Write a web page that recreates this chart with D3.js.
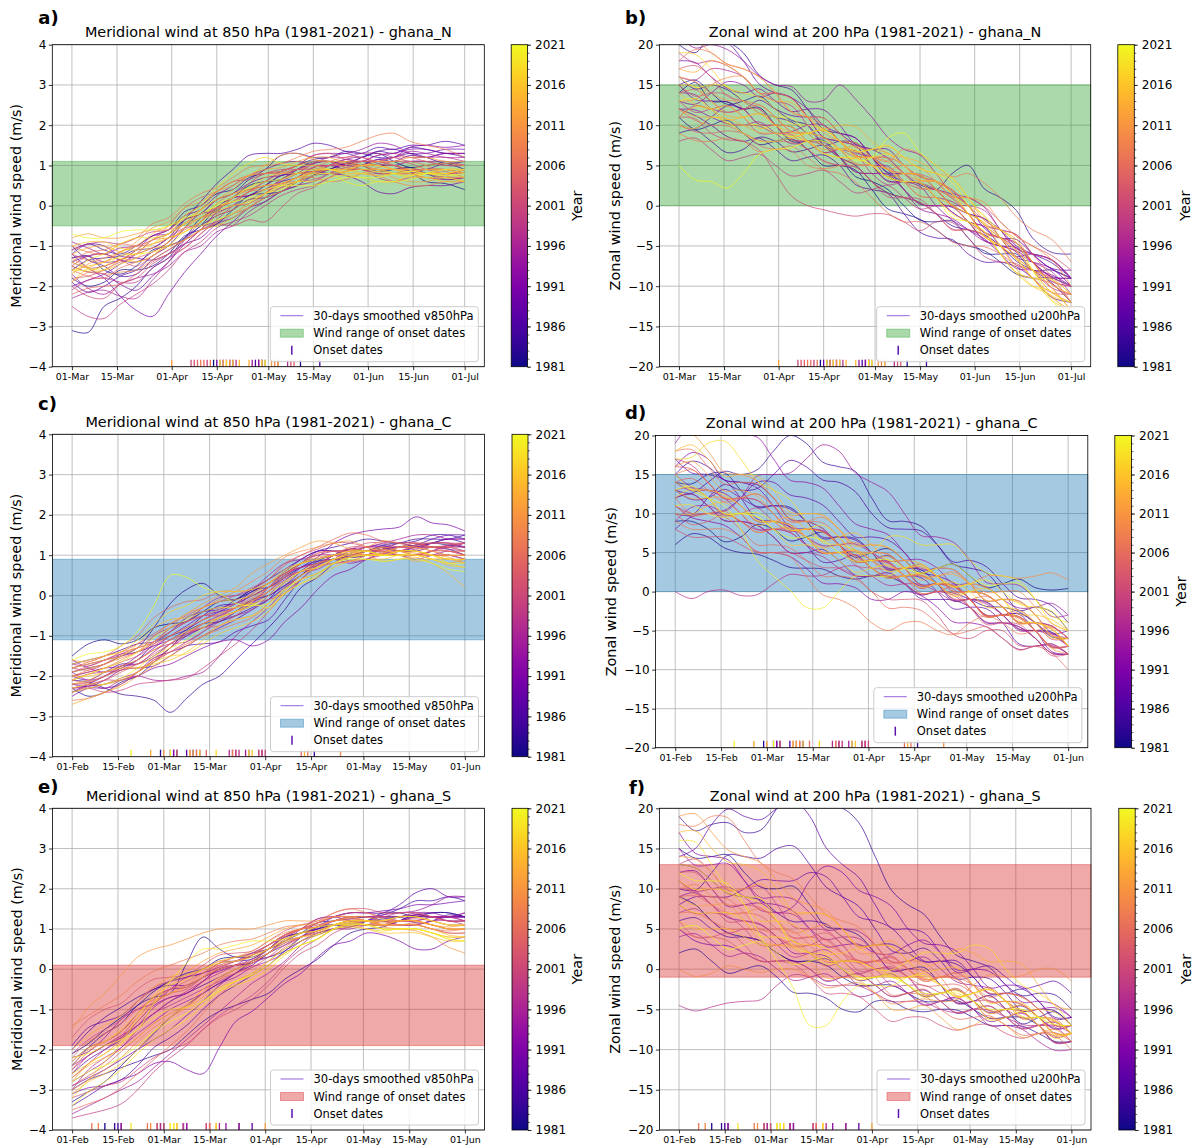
<!DOCTYPE html>
<html>
<head>
<meta charset="utf-8">
<script src="https://cdn.jsdelivr.net/npm/d3@7"></script>
<style>
  body { margin: 0; background: #fff; }
  svg { display: block; }
  text { font-family: "DejaVu Sans", sans-serif; fill: #000; }
</style>
</head>
<body>
<svg id="fig" width="1199" height="1147"></svg>
<script>
// ---------------------------------------------------------------------------
// Data: 30-day smoothed wind speed per year, sampled every ~5 days
// ---------------------------------------------------------------------------
const years = [1981,1982,1983,1984,1985,1986,1987,1988,1989,1990,1991,1992,1993,1994,1995,
  1996,1997,1998,1999,2000,2001,2002,2003,2004,2005,2006,2007,2008,2009,2010,2011,2012,2013,
  2014,2015,2016,2017,2018,2019,2020,2021];

// sample positions, days after the first tick of each season
const sampleDaysMarJul = [0,5,10,15,20,25,30,35,40,45,50,55,60,65,70,75,80,85,90,95,100,105,110,116,122];
const sampleDaysFebJun = [0,5,10,15,20,25,30,35,40,45,50,55,60,65,70,75,80,85,90,95,100,105,110,115,120];

const ticksMarJul = ["01-Mar","15-Mar","01-Apr","15-Apr","01-May","15-May","01-Jun","15-Jun","01-Jul"];
const ticksFebJun = ["01-Feb","15-Feb","01-Mar","15-Mar","01-Apr","15-Apr","01-May","15-May","01-Jun"];
const ticksV850 = [-4,-3,-2,-1,0,1,2,3,4];
const ticksU200 = [-20,-15,-10,-5,0,5,10,15,20];
const ticksYear = [1981,1986,1991,1996,2001,2006,2011,2016,2021];

// ghana_N, v850 (m/s), 01-Mar .. 01-Jul
const v850N = [
  [-1.3,-1.25,-1.6,-1.7,-1.5,-1.1,-1.0,-0.8,-0.3,-0.1,0.2,0.5,0.6,0.65,0.9,1.1,1.1,1.0,1.2,1.3,1.1,0.95,1.0,1.05,0.9],
  [-1.8,-2.0,-1.9,-1.6,-1.6,-1.5,-1.2,-0.75,-0.6,-0.45,-0.1,0.25,0.3,0.35,0.6,0.85,0.9,1.05,1.0,0.85,0.9,0.95,0.8,0.65,0.7],
  [-3.1,-3.15,-2.5,-2.3,-2.0,-1.55,-1.3,-0.8,-0.5,-0.05,0.2,0.25,0.5,0.75,0.8,0.8,0.9,1.05,1.1,1.0,1.0,0.85,0.6,0.55,0.4],
  [-1.2,-0.95,-1.1,-1.2,-1.0,-0.75,-0.6,-0.15,0.0,0.3,0.4,0.7,0.8,0.85,1.0,1.15,1.2,1.35,1.3,1.2,1.2,1.3,1.2,1.05,1.1],
  [-1.6,-1.35,-1.3,-1.25,-1.1,-1.05,-0.8,-0.35,-0.2,0.15,0.3,0.65,0.9,1.25,1.3,1.2,1.2,1.3,1.2,1.35,1.3,1.45,1.4,1.3,1.3],
  [-1.0,-1.35,-1.5,-1.75,-1.7,-1.35,-1.1,-0.85,-0.5,-0.25,-0.1,0.15,0.2,0.35,0.6,0.75,0.8,0.85,1.0,1.15,1.1,1.25,1.2,1.3,1.2],
  [-1.4,-1.25,-1.2,-1.35,-1.4,-1.15,-0.9,-0.35,0.1,0.55,0.9,1.25,1.3,1.3,1.4,1.55,1.5,1.35,1.3,1.45,1.4,1.5,1.5,1.6,1.5],
  [-1.9,-2.15,-2.0,-1.75,-1.6,-1.25,-1.0,-0.55,-0.2,-0.15,0.0,0.25,0.4,0.6,0.7,0.95,1.0,0.9,0.9,0.8,0.8,0.9,0.9,1.05,1.0],
  [-1.1,-0.95,-1.0,-1.25,-1.3,-1.35,-1.2,-0.95,-0.8,-0.45,-0.3,-0.05,0.1,0.35,0.5,0.75,0.9,1.05,1.2,1.35,1.4,1.3,1.3,1.4,1.4],
  [-1.5,-1.65,-1.7,-1.95,-2.1,-1.75,-1.4,-0.95,-0.6,-0.15,0.2,0.4,0.5,0.75,0.8,0.85,0.8,0.75,0.6,0.35,0.3,0.45,0.5,0.5,0.6],
  [-1.2,-1.55,-1.8,-2.25,-2.6,-2.75,-2.2,-1.65,-1.2,-0.75,-0.4,-0.05,0.2,0.45,0.6,0.75,1.0,1.15,1.1,1.25,1.3,1.4,1.4,1.3,1.3],
  [-2.0,-1.85,-1.7,-1.45,-1.2,-0.85,-0.7,-0.35,-0.2,0.15,0.3,0.55,0.7,0.75,0.9,1.05,1.1,1.0,1.0,1.15,1.2,1.45,1.5,1.45,1.5],
  [-1.3,-1.25,-1.4,-1.35,-1.1,-0.75,-0.6,-0.25,-0.1,0.25,0.5,0.75,0.9,1.05,1.1,1.0,1.0,1.15,1.2,1.05,1.0,1.1,1.1,1.0,1.0],
  [-0.9,-1.05,-1.2,-1.05,-1.0,-0.75,-0.7,-0.45,-0.3,-0.05,0.1,0.35,0.6,0.85,1.0,1.25,1.3,1.3,1.4,1.55,1.5,1.3,1.2,1.3,1.3],
  [-1.7,-2.05,-2.2,-1.95,-1.8,-1.7,-1.5,-1.15,-1.0,-0.65,-0.5,-0.15,0.1,0.35,0.5,0.6,0.8,1.05,1.1,1.1,1.2,1.35,1.3,1.2,1.2],
  [-2.3,-2.15,-2.1,-2.25,-2.3,-1.85,-1.4,-0.85,-0.4,-0.05,0.2,0.25,0.4,0.65,0.9,1.05,1.1,0.95,0.9,0.9,0.8,0.8,0.9,0.9,0.8],
  [-1.4,-1.55,-1.5,-1.35,-1.2,-1.05,-0.8,-0.55,-0.5,-0.4,-0.2,0.05,0.3,0.6,0.8,1.05,1.2,1.2,1.3,1.3,1.2,1.1,1.1,1.1,1.0],
  [-2.1,-1.85,-1.8,-1.9,-1.9,-1.55,-1.3,-1.05,-0.7,-0.35,0.0,0.35,0.5,0.55,0.7,0.95,1.0,1.0,1.1,1.25,1.3,1.2,1.2,1.2,1.1],
  [-2.5,-2.75,-2.8,-2.45,-2.2,-1.95,-1.6,-1.15,-0.9,-0.55,-0.4,-0.25,0.0,0.25,0.4,0.5,0.7,0.85,0.9,0.7,0.6,0.7,0.7,0.65,0.7],
  [-1.1,-0.95,-0.9,-0.95,-0.8,-0.65,-0.6,-0.25,0.0,0.35,0.6,0.65,0.8,0.9,0.9,0.9,1.0,1.05,1.0,0.9,0.9,0.9,0.8,0.7,0.7],
  [-2.0,-2.25,-2.3,-1.95,-1.8,-1.45,-1.2,-0.95,-0.6,-0.45,-0.5,-0.35,-0.4,-0.05,0.3,0.45,0.7,0.85,0.9,0.8,0.8,0.8,0.7,0.75,0.9],
  [-1.5,-1.25,-1.2,-1.35,-1.5,-1.25,-1.0,-0.85,-0.6,-0.15,0.2,0.55,0.8,0.85,1.0,1.25,1.3,1.15,1.1,1.1,1.0,0.85,0.8,0.8,0.8],
  [-1.8,-1.75,-1.6,-1.4,-1.3,-1.15,-0.9,-0.55,-0.3,-0.2,0.0,0.05,0.3,0.55,0.6,0.65,0.8,0.95,1.0,1.0,1.1,1.05,0.9,0.8,0.9],
  [-1.2,-1.35,-1.4,-1.15,-1.0,-0.85,-0.5,-0.05,0.2,0.35,0.6,0.75,0.8,0.8,0.9,1.0,1.0,1.0,1.1,1.1,1.0,0.9,0.9,0.85,0.7],
  [-2.2,-2.05,-2.0,-1.95,-1.7,-1.4,-1.2,-1.05,-0.7,-0.4,-0.2,-0.05,0.3,0.65,0.8,0.85,1.0,1.1,1.1,1.1,1.2,1.2,1.1,1.0,1.0],
  [-1.6,-1.75,-1.8,-1.55,-1.4,-1.25,-0.9,-0.6,-0.4,0.05,0.3,0.4,0.6,0.8,0.9,0.95,1.1,1.2,1.2,1.1,1.1,1.1,1.0,0.75,0.6],
  [-1.4,-1.15,-1.1,-0.95,-1.0,-0.95,-0.8,-0.45,-0.2,-0.05,0.1,0.35,0.4,0.5,0.7,0.7,0.6,0.65,0.8,0.95,1.0,0.9,0.9,0.9,0.8],
  [-1.0,-1.15,-1.2,-0.95,-0.8,-0.45,-0.3,0.05,0.3,0.45,0.7,0.95,1.0,1.05,1.2,1.35,1.4,1.45,1.6,1.75,1.8,1.6,1.5,1.4,1.2],
  [-1.9,-1.65,-1.5,-1.35,-1.1,-0.85,-0.8,-0.65,-0.4,-0.05,0.1,0.35,0.5,0.55,0.7,0.85,0.9,0.8,0.8,0.75,0.6,0.5,0.5,0.6,0.6],
  [-1.3,-1.55,-1.7,-1.65,-1.6,-1.35,-1.1,-0.85,-0.6,-0.25,-0.1,0.15,0.3,0.45,0.6,0.85,0.9,0.9,1.0,1.0,0.9,0.8,0.8,0.9,0.9],
  [-1.7,-1.45,-1.3,-1.15,-0.9,-0.55,-0.4,-0.05,0.1,0.35,0.5,0.75,0.8,0.85,1.0,1.1,1.1,0.95,0.9,0.85,0.7,0.6,0.6,0.7,0.7],
  [-0.8,-0.7,-0.8,-0.8,-0.7,-0.6,-0.6,-0.45,-0.1,0.15,0.4,0.75,0.9,0.95,1.1,1.2,1.2,1.05,1.0,1.1,1.1,1.2,1.2,1.1,1.1],
  [-1.5,-1.65,-1.6,-1.35,-1.2,-0.85,-0.7,-0.45,-0.1,0.35,0.6,0.75,1.0,1.25,1.3,1.15,1.1,1.1,1.0,0.9,0.9,0.9,0.8,0.8,0.9],
  [-1.2,-1.05,-1.0,-1.15,-1.2,-1.05,-1.0,-0.85,-0.6,-0.5,-0.3,-0.05,0.2,0.35,0.6,0.85,0.9,0.9,1.0,1.0,0.9,0.9,1.0,1.05,1.0],
  [-1.6,-1.5,-1.4,-1.15,-1.0,-0.7,-0.5,-0.35,-0.1,0.15,0.3,0.45,0.7,0.8,0.8,0.8,0.9,0.9,0.8,0.75,0.8,0.8,0.7,0.6,0.6],
  [-1.9,-1.55,-1.4,-1.3,-1.4,-1.25,-0.9,-0.55,-0.3,-0.1,0.2,0.4,0.5,0.55,0.7,0.8,0.8,0.85,1.0,1.0,0.9,0.85,0.9,0.9,0.8],
  [-1.0,-0.9,-0.9,-1.05,-1.1,-0.95,-0.8,-0.65,-0.4,-0.15,0.0,0.1,0.3,0.5,0.6,0.6,0.7,0.75,0.7,0.6,0.6,0.75,0.8,0.8,0.9],
  [-1.4,-1.55,-1.6,-1.45,-1.3,-0.95,-0.7,-0.25,0.0,0.45,0.8,1.05,1.2,1.05,1.0,1.0,0.9,0.85,0.9,0.9,0.8,0.7,0.7,0.7,0.6],
  [-1.7,-1.35,-1.2,-0.95,-0.8,-0.8,-0.7,-0.45,-0.3,0.05,0.2,0.45,0.6,0.65,0.8,0.9,0.9,0.8,0.8,0.85,0.8,0.75,0.8,0.8,0.7],
  [-1.6,-1.6,-1.5,-1.25,-1.2,-1.15,-1.0,-0.65,-0.5,-0.35,-0.2,0.05,0.3,0.4,0.6,0.75,0.8,0.6,0.5,0.6,0.6,0.65,0.8,0.9,0.9],
  [-0.7,-0.8,-0.8,-0.65,-0.6,-0.6,-0.5,-0.3,-0.2,0.0,0.1,0.2,0.4,0.5,0.5,0.5,0.6,0.7,0.7,0.7,0.8,0.85,0.8,0.75,0.8]
];

// ghana_N, u200 (m/s), 01-Mar .. 01-Jul
const u200N = [
  [14,15.3,13,12.9,12,12.2,10,8.0,8,8.1,6,3.6,3,2.0,0,-1.8,-2,-1.9,-4,-5.9,-6,-6.0,-8,-8.0,-9],
  [11,9.5,10,10.6,9,7.6,8,8.3,7,5.0,5,4.4,2,-0.4,-1,-1.7,-3,-4.4,-5,-5.6,-7,-8.5,-9,-9.0,-10],
  [15,15.6,14,12.6,13,13.6,12,10.6,10,7.5,6,5.0,3,1.6,1,0.4,-1,-2.5,-3,-3.6,-5,-6.9,-8,-9.6,-12],
  [20,19.0,21,20.4,19,16.2,15,14.4,12,9.5,9,8.4,6,4.1,3,2.8,2,4.0,5,2.1,1,-0.6,-4,-5.8,-6],
  [9,9.4,8,6.6,7,8.5,8,6.7,7,7.5,6,4.2,4,3.9,2,0.2,0,-0.2,-2,-4.3,-5,-5.2,-7,-8.8,-9],
  [16,14.5,15,14.4,13,11.5,11,10.4,9,7.5,8,7.8,6,4.1,4,3.8,2,0.1,-1,-1.6,-3,-5.0,-6,-7.1,-9],
  [12,11.2,10,8.6,8,8.4,7,5.6,6,6.3,5,2.6,2,1.5,-1,-3.3,-4,-4.2,-6,-7.0,-7,-7.6,-9,-11.4,-12],
  [22,20.6,21,20.3,18,15.1,14,13.4,11,8.5,8,7.4,5,3.1,3,2.8,1,-0.8,-2,-2.6,-5,-6.3,-6,-6.8,-9],
  [15,13.2,13,12.9,12,13.1,12,11.2,11,10.9,9,7.6,7,5.9,4,2.6,2,1.4,0,-2.8,-4,-4.2,-6,-7.8,-8],
  [10,9.6,11,12.4,12,10.1,10,9.8,8,6.6,7,6.8,5,3.6,4,3.8,2,0.0,-1,-1.6,-4,-6.4,-7,-7.8,-10],
  [18,17.8,16,14.6,14,14.5,13,11.7,12,11.9,10,7.6,7,7.0,5,3.6,3,1.9,0,-2.4,-3,-3.6,-6,-7.9,-9],
  [13,12.6,14,15.4,15,13.5,14,13.4,12,10.0,9,8.4,6,3.5,3,2.4,0,-1.8,-3,-4.1,-6,-7.8,-8,-8.6,-10],
  [12,11.9,11,10.2,10,9.9,9,9.2,10,10.0,8,6.6,6,4.5,2,-0.4,-1,-1.6,-3,-4.4,-5,-5.6,-7,-8.9,-9],
  [21,19.6,20,19.4,18,16.1,15,14.8,13,13.1,15,13.2,11,8.5,7,6.3,4,1.6,1,-0.2,-3,-5.3,-6,-6.7,-9],
  [14,13.8,12,10.2,10,10.4,9,7.7,8,8.4,7,5.2,5,4.9,3,1.2,1,0.5,-1,-3.4,-4,-4.6,-7,-9.4,-10],
  [16,15.6,17,16.8,16,14.0,14,13.4,11,8.5,8,7.4,5,3.0,3,2.9,1,-0.8,-2,-2.6,-4,-5.8,-7,-8.2,-11],
  [11,12.4,12,11.6,12,12.0,10,8.2,8,7.9,6,4.2,4,3.9,2,0.2,0,-0.1,-2,-4.3,-5,-5.7,-8,-10.2,-11],
  [19,17.7,18,17.4,16,14.0,13,12.4,10,7.5,7,6.4,4,2.6,3,2.8,2,0.1,0,-0.6,-3,-5.4,-6,-6.7,-9],
  [8,8.4,7,5.6,6,6.4,5,3.7,4,4.4,3,1.6,2,2.5,1,-0.4,0,-0.1,-2,-3.3,-4,-5.2,-7,-8.9,-10],
  [13,11.6,12,12.4,11,9.0,9,8.8,7,5.6,5,4.8,3,1.1,1,0.8,-1,-2.9,-3,-3.7,-5,-7.4,-8,-9.1,-12],
  [11,10.8,9,8.2,8,6.9,4,1.2,0,-0.5,-1,-1.3,-1,-1.1,-2,-3.1,-2,-2.1,-4,-6.3,-7,-7.2,-9,-10.8,-11],
  [15,13.6,14,13.8,12,10.1,10,9.8,8,6.6,7,6.8,6,4.5,4,3.9,3,1.1,1,-0.1,-2,-3.8,-5,-6.2,-8],
  [17,17.4,16,13.6,13,12.0,10,8.2,8,7.5,6,5.1,5,4.5,3,2.1,2,0.9,-1,-3.3,-4,-4.7,-7,-9.4,-10],
  [10,9.2,9,9.3,9,8.1,8,7.9,7,5.5,5,4.8,3,1.5,1,0.4,-1,-3.0,-3,-3.7,-6,-8.3,-9,-9.7,-12],
  [14,14.4,13,11.6,12,12.5,11,9.2,9,8.5,7,6.1,6,6.0,5,3.2,3,1.9,0,-1.8,-3,-3.6,-6,-8.8,-11],
  [12,10.6,10,9.9,9,7.5,7,7.4,6,4.5,4,2.9,1,-0.9,-2,-2.0,-3,-4.5,-5,-5.1,-6,-7.4,-8,-10.2,-13],
  [18,19.4,19,17.6,17,16.0,14,11.6,11,10.0,8,6.2,6,5.9,4,2.2,2,1.0,-1,-3.3,-4,-5.6,-8,-10.8,-12],
  [9,8.1,8,8.4,8,6.7,7,6.8,5,4.6,5,6.0,6,5.5,7,6.4,5,3.6,4,2.8,1,-1.4,-3,-4.2,-7],
  [16,15.4,14,13.1,13,12.5,11,9.2,9,9.4,8,6.2,6,5.5,4,3.1,3,2.0,0,-2.4,-3,-4.6,-7,-9.8,-11],
  [13,13.2,15,15.9,16,14.0,14,13.3,11,9.1,8,7.8,6,4.6,5,4.8,3,1.1,1,0.4,-2,-3.8,-5,-6.7,-10],
  [20,20.4,19,17.6,17,16.0,14,11.7,11,10.9,9,7.2,7,6.5,5,3.6,3,1.5,-1,-3.8,-5,-6.6,-9,-11.4,-13],
  [12,11.1,11,10.8,10,9.1,9,8.9,8,7.0,7,7.4,6,4.5,4,3.8,2,0.0,-1,-2.1,-4,-6.4,-8,-9.1,-12],
  [15,14.8,13,11.2,11,11.4,10,8.6,9,9.4,8,6.7,7,7.4,6,4.6,4,3.4,1,-1.8,-3,-4.2,-7,-9.8,-11],
  [17,16.6,18,17.4,16,14.0,13,12.8,11,9.6,10,9.8,8,6.5,6,5.4,4,1.5,0,-1.2,-4,-6.4,-8,-10.2,-13],
  [11,12.3,12,10.7,11,11.4,10,9.1,9,8.5,7,5.2,5,4.5,3,1.2,1,0.0,-2,-3.9,-5,-6.6,-9,-11.2,-12],
  [14,12.6,12,12.4,11,9.6,10,9.8,8,6.5,6,5.9,5,3.6,4,3.8,2,0.1,-1,-2.2,-5,-7.9,-10,-11.2,-14],
  [19,18.8,17,14.7,14,13.5,12,10.2,10,9.5,8,6.1,6,6.4,5,3.2,3,1.5,-1,-3.8,-5,-6.7,-9,-11.8,-13],
  [10,9.6,11,10.4,9,8.0,8,8.4,8,6.5,6,5.9,5,3.5,3,2.8,1,-1.0,-2,-3.2,-6,-8.4,-10,-10.6,-13],
  [13,13.3,12,10.2,10,10.0,9,8.6,9,9.4,8,6.7,7,7.5,6,4.6,4,2.9,0,-2.4,-4,-5.6,-8,-10.8,-12],
  [16,14.7,15,14.8,13,11.5,11,10.9,9,7.5,7,6.9,5,3.5,3,2.9,1,-1.5,-2,-3.2,-6,-8.3,-9,-9.2,-11],
  [5,3.2,3,2.2,4,6.4,7,7.2,8,8.0,7,5.6,6,8.4,9,6.6,5,3.4,1,-1.4,-3,-4.6,-8,-11.8,-14]
];

// ghana_C, v850 (m/s), 01-Feb .. 01-Jun
const v850C = [
  [-1.5,-1.2,-1.1,-1.2,-1.1,-0.8,-0.7,-0.65,-0.4,-0.15,-0.1,0.1,0.3,0.55,0.8,0.9,1.0,1.15,1.1,1.15,1.2,1.25,1.3,1.25,1.2],
  [-2.3,-2.5,-2.4,-2.15,-2.0,-1.65,-1.3,-0.9,-0.7,-0.65,-0.4,-0.1,0.0,0.25,0.5,0.8,0.9,0.95,1.0,1.15,1.1,1.2,1.3,1.4,1.3],
  [-1.9,-1.8,-1.7,-1.5,-1.3,-0.8,-0.2,0.15,0.3,0.0,-0.1,0.15,0.2,0.45,0.7,0.85,0.9,1.0,1.1,1.25,1.3,1.2,1.2,1.15,1.0],
  [-2.1,-2.15,-2.3,-2.45,-2.5,-2.6,-2.9,-2.55,-2.2,-2.0,-1.6,-1.2,-0.8,-0.35,0.2,0.45,0.8,1.05,1.1,1.2,1.3,1.4,1.4,1.4,1.5],
  [-2.4,-2.2,-2.0,-1.8,-1.6,-1.2,-1.0,-0.85,-0.5,-0.25,-0.2,0.0,0.2,0.5,0.8,1.1,1.2,1.3,1.4,1.35,1.3,1.35,1.5,1.5,1.4],
  [-1.7,-1.6,-1.5,-1.35,-1.2,-1.15,-0.9,-0.55,-0.4,-0.35,-0.1,0.15,0.4,0.65,0.9,1.1,1.1,0.95,1.0,1.15,1.2,1.2,1.3,1.3,1.2],
  [-2.0,-2.1,-1.9,-1.7,-1.7,-1.5,-1.2,-1.0,-0.8,-0.65,-0.5,-0.3,-0.1,0.2,0.5,0.85,1.0,1.05,1.2,1.25,1.1,1.1,1.0,1.0,0.9],
  [-2.2,-2.25,-2.1,-1.85,-1.8,-1.75,-1.5,-1.25,-1.2,-1.15,-0.9,-0.75,-0.6,-0.1,0.4,0.75,0.9,0.95,1.1,1.2,1.2,1.25,1.4,1.5,1.5],
  [-1.8,-1.7,-1.6,-1.5,-1.4,-1.25,-1.1,-0.85,-0.6,-0.4,-0.2,0.1,0.3,0.6,0.9,1.1,1.1,1.1,1.2,1.2,1.1,1.1,1.2,1.2,1.1],
  [-2.5,-2.3,-2.3,-2.2,-1.9,-1.55,-1.4,-1.25,-1.0,-0.8,-0.6,-0.35,-0.1,0.35,0.7,0.95,1.3,1.5,1.6,1.65,1.7,1.95,1.8,1.75,1.6],
  [-1.6,-1.8,-1.9,-1.75,-1.6,-1.3,-1.0,-0.75,-0.5,-0.4,-0.3,-0.15,0.0,0.25,0.6,0.9,1.0,1.0,1.1,1.1,1.0,1.0,1.1,1.25,1.2],
  [-2.3,-2.25,-2.2,-2.1,-2.0,-1.8,-1.7,-1.5,-1.3,-1.15,-1.1,-1.25,-1.1,-0.65,-0.3,0.15,0.5,0.65,0.9,1.05,1.1,1.15,1.3,1.4,1.4],
  [-2.0,-1.9,-1.8,-1.75,-1.5,-1.15,-0.9,-0.65,-0.4,-0.3,-0.2,0.0,0.2,0.5,0.7,0.8,1.0,1.15,1.1,1.0,1.0,0.9,1.0,1.1,1.0],
  [-1.9,-2.1,-2.0,-1.75,-1.7,-1.4,-1.1,-0.95,-0.8,-0.55,-0.4,-0.2,0.2,0.55,0.7,0.8,0.9,0.8,0.9,1.05,1.0,1.0,1.1,1.25,1.3],
  [-2.2,-2.2,-2.3,-2.1,-2.0,-2.1,-2.1,-2.0,-1.9,-1.5,-1.0,-0.65,-0.3,0.15,0.5,0.75,1.0,1.15,1.2,1.3,1.4,1.5,1.5,1.4,1.4],
  [-1.7,-1.75,-1.6,-1.45,-1.4,-1.0,-0.8,-0.65,-0.3,-0.05,0.0,0.15,0.5,0.8,0.9,1.0,1.1,1.1,1.0,1.0,1.1,1.2,1.2,1.2,1.3],
  [-2.4,-2.3,-2.2,-2.05,-1.9,-1.6,-1.3,-1.0,-0.7,-0.5,-0.3,-0.1,0.1,0.45,0.6,0.65,0.9,1.1,1.1,1.1,1.2,1.3,1.2,1.15,1.1],
  [-2.1,-1.95,-1.9,-1.85,-1.6,-1.35,-1.2,-1.15,-0.9,-0.6,-0.5,-0.35,0.0,0.4,0.6,0.75,1.0,1.15,1.1,1.15,1.3,1.3,1.2,1.2,1.2],
  [-1.8,-1.85,-1.7,-1.45,-1.3,-1.15,-0.8,-0.65,-0.5,-0.5,-0.3,0.05,0.3,0.55,0.8,1.0,1.0,0.85,0.9,1.0,1.0,1.0,1.1,1.1,1.0],
  [-2.3,-2.3,-2.4,-2.35,-2.2,-2.15,-2.1,-2.05,-1.8,-1.5,-1.2,-0.85,-0.4,0.05,0.4,0.55,0.8,1.0,1.0,1.0,1.1,1.2,1.2,1.2,1.3],
  [-2.4,-2.25,-2.1,-2.1,-1.9,-1.65,-1.4,-1.15,-0.9,-0.65,-0.4,-0.15,0.1,0.45,0.8,1.05,1.1,1.15,1.3,1.3,1.2,1.25,1.3,1.3,1.2],
  [-2.0,-1.9,-1.8,-1.65,-1.5,-1.25,-1.0,-0.8,-0.6,-0.45,-0.3,-0.15,0.2,0.55,0.7,0.8,1.0,1.2,1.2,1.2,1.2,1.2,1.1,1.0,1.0],
  [-1.9,-1.75,-1.6,-1.4,-1.2,-0.95,-0.7,-0.5,-0.3,-0.15,0.0,0.2,0.4,0.75,1.0,1.15,1.3,1.3,1.2,1.05,1.1,1.25,1.2,1.25,1.3],
  [-2.1,-2.15,-2.0,-1.8,-1.8,-1.65,-1.3,-0.95,-0.8,-0.75,-0.5,-0.2,-0.1,0.05,0.4,0.7,0.8,0.85,1.0,1.15,1.1,1.0,1.0,1.0,0.9],
  [-2.3,-2.2,-2.1,-1.9,-1.7,-1.45,-1.2,-0.95,-0.7,-0.55,-0.4,-0.25,0.1,0.45,0.6,0.7,0.9,1.0,1.0,1.05,1.2,1.3,1.3,1.3,1.3],
  [-1.8,-1.65,-1.5,-1.25,-1.0,-0.55,-0.3,-0.15,-0.1,0.1,0.1,0.15,0.4,0.8,1.0,1.2,1.4,1.55,1.5,1.35,1.3,1.3,1.2,1.1,1.1],
  [-2.2,-2.15,-2.0,-1.85,-1.7,-1.55,-1.2,-0.9,-0.8,-0.55,-0.3,-0.05,0.2,0.35,0.6,0.75,0.8,0.85,1.0,1.1,1.0,1.0,1.1,1.1,1.0],
  [-2.6,-2.55,-2.4,-2.2,-1.9,-1.6,-1.4,-1.2,-1.0,-0.85,-0.7,-0.55,-0.2,0.2,0.5,0.7,0.9,1.05,1.0,1.0,1.1,1.1,1.0,0.9,0.9],
  [-2.0,-1.85,-1.7,-1.55,-1.4,-1.15,-0.9,-0.65,-0.5,-0.35,-0.2,0.05,0.3,0.55,0.8,1.05,1.1,1.1,1.2,1.35,1.3,1.15,1.2,1.2,1.1],
  [-1.6,-1.65,-1.5,-1.4,-1.3,-1.15,-0.8,-0.45,-0.3,-0.1,0.1,0.35,0.6,0.95,1.1,1.2,1.3,1.35,1.2,1.1,1.1,1.05,1.0,1.0,1.0],
  [-2.1,-1.95,-1.8,-1.6,-1.4,-1.2,-1.0,-0.8,-0.6,-0.45,-0.3,-0.1,0.2,0.5,0.8,0.95,1.0,1.05,1.1,1.2,1.1,1.0,1.0,0.95,0.8],
  [-1.9,-1.8,-1.7,-1.5,-1.3,-1.0,-0.7,-0.45,-0.2,0.0,0.2,0.55,0.8,1.0,1.2,1.35,1.3,1.15,1.1,1.0,1.0,1.0,0.9,0.8,0.9],
  [-2.7,-2.55,-2.4,-2.25,-2.0,-1.75,-1.5,-1.25,-1.0,-0.75,-0.6,-0.5,-0.2,0.15,0.4,0.55,0.8,0.95,1.0,1.05,1.2,1.2,1.1,1.0,1.0],
  [-2.2,-2.1,-1.9,-1.75,-1.6,-1.35,-1.1,-0.9,-0.7,-0.55,-0.4,-0.15,0.1,0.3,0.6,0.8,0.9,0.95,1.1,1.15,1.0,0.85,0.9,0.9,0.8],
  [-1.8,-1.7,-1.6,-1.5,-1.2,-0.8,-0.6,-0.55,-0.3,-0.15,-0.1,0.0,0.3,0.65,0.8,0.9,1.0,1.1,1.0,0.85,0.9,0.95,0.8,0.55,0.2],
  [-2.0,-2.0,-1.9,-1.8,-1.8,-1.7,-1.6,-1.4,-1.1,-0.75,-0.6,-0.5,-0.3,0.05,0.3,0.45,0.7,0.85,0.9,0.9,1.0,1.0,0.9,0.75,0.7],
  [-2.3,-2.2,-2.2,-2.1,-1.9,-1.65,-1.5,-1.45,-1.2,-0.95,-0.8,-0.65,-0.4,0.1,0.5,0.7,0.9,1.0,1.0,1.0,1.1,1.1,1.0,0.9,0.9],
  [-1.7,-1.6,-1.5,-1.4,-1.1,-0.7,-0.4,-0.25,0.0,0.1,0.1,0.15,0.3,0.6,0.8,0.9,1.0,1.1,1.1,1.0,1.0,1.1,1.0,0.9,0.9],
  [-2.1,-1.95,-1.8,-1.65,-1.4,-1.05,-0.8,-0.6,-0.4,-0.3,-0.3,-0.2,-0.3,0.05,0.3,0.5,0.8,0.95,1.0,1.0,1.1,1.1,1.0,0.8,0.7],
  [-2.4,-2.3,-2.2,-2.05,-1.8,-1.5,-1.3,-1.1,-0.8,-0.55,-0.4,-0.25,0.0,0.35,0.6,0.7,0.9,1.05,1.1,1.0,1.0,1.0,0.9,0.8,0.8],
  [-1.6,-1.45,-1.4,-1.25,-0.9,-0.25,0.5,0.45,0.2,0.05,-0.2,-0.25,-0.2,0.15,0.4,0.55,0.8,0.9,0.9,0.85,0.9,0.9,0.8,0.65,0.6]
];

// ghana_C, u200 (m/s), 01-Feb .. 01-Jun
const u200C = [
  [9,9.0,8,6.4,7,8.6,8,6.5,7,7.6,6,4.4,5,5.5,4,2.4,3,3.5,2,0.5,1,1.6,0.5,0.2,0.4],
  [14,13.8,15,15.2,13,10.8,11,10.8,9,6.8,7,6.8,5,2.8,3,2.8,1,-1.2,-1,-1.3,-3,-4.8,-5,-5.2,-7],
  [6,7.4,7,5.6,5,4.8,4,3.1,3,2.9,2,1.6,2,1.9,1,-0.4,0,-0.2,-1,-1.9,-2,-2.6,-4,-5.8,-6],
  [13,12.6,14,15.4,15,15.6,18,20.0,19,16.6,16,15.4,12,9.1,9,8.4,6,3.5,3,2.4,0,-2.4,-2,-2.6,-5],
  [15,16.7,16,14.3,14,13.7,12,9.3,9,8.1,6,3.9,4,4.6,3,0.9,1,0.7,-1,-3.1,-3,-2.9,-5,-7.1,-7],
  [10,9.8,12,13.7,13,13.2,15,16.8,16,14.3,14,12.8,10,8.2,8,7.8,6,3.8,4,3.2,1,-0.8,-1,-1.8,-4],
  [12,12.5,11,9.1,9,8.5,7,5.0,5,5.4,4,2.1,2,2.4,1,-0.9,-1,-1.1,-2,-4.0,-4,-4.5,-6,-7.9,-8],
  [17,15.2,15,14.3,12,9.3,9,8.3,6,3.8,4,4.7,3,1.7,2,1.8,0,-2.2,-2,-2.2,-4,-6.7,-7,-6.7,-8],
  [8,9.6,10,10.4,12,14.0,14,12.4,12,11.1,9,7.0,7,6.6,5,2.5,2,1.1,-1,-3.0,-3,-2.8,-4,-5.4,-5],
  [13,11.8,12,13.1,12,10.9,11,10.6,9,7.0,7,6.6,5,3.0,3,3.5,2,0.0,0,-0.4,-2,-4.0,-4,-4.4,-6],
  [16,17.8,17,14.3,14,13.3,11,8.3,8,7.8,6,3.8,4,3.8,2,0.7,1,0.8,-1,-3.2,-3,-3.2,-5,-7.7,-8],
  [11,9.5,9,8.5,7,5.1,5,4.5,3,1.1,1,0.5,-1,-1.0,0,-0.5,-2,-3.9,-4,-4.5,-6,-7.4,-7,-6.9,-8],
  [19,21.5,22,20.3,20,19.8,17,14.3,14,13.3,11,8.7,8,7.3,5,2.8,3,2.8,1,-1.2,-1,-1.2,-3,-5.3,-6],
  [14,12.9,13,12.6,11,9.0,9,8.6,7,5.9,6,6.1,5,3.9,4,4.1,3,1.0,1,0.6,-1,-2.1,-2,-1.5,-3],
  [9,10.8,11,10.3,12,14.8,15,15.2,17,18.8,18,15.2,14,12.8,10,7.2,7,6.3,4,1.2,1,0.8,-1,-3.2,-3],
  [15,13.4,13,12.0,10,8.0,8,7.6,6,4.9,5,4.6,3,1.9,2,2.1,1,-1.0,-1,-1.4,-3,-5.0,-5,-5.4,-7],
  [12,12.5,11,9.1,9,8.5,7,5.0,5,4.5,3,2.0,2,2.0,1,-0.4,0,-0.5,-2,-3.9,-4,-4.5,-6,-7.9,-8],
  [0,-0.9,0,0.2,-0.5,-0.4,1,2.2,2,2.1,3,3.3,2,0.8,1,0.9,0,-1.2,-1,-1.6,-3,-4.8,-5,-5.6,-7],
  [17,16.2,14,11.9,12,11.7,10,7.9,8,7.7,6,3.8,4,3.7,2,0.4,1,0.7,-1,-3.1,-3,-2.4,-4,-6.1,-6],
  [11,10.0,10,10.0,9,7.9,8,7.6,6,4.9,5,5.1,4,2.9,3,3.0,2,0.0,0,-0.4,-2,-4.0,-4,-4.4,-6],
  [13,13.3,12,9.8,10,10.7,9,7.7,8,7.8,6,4.7,5,4.8,3,0.8,1,0.3,-2,-4.2,-4,-4.2,-6,-8.2,-8],
  [8,7.0,7,7.0,6,5.0,5,5.0,4,3.1,3,2.0,0,-1.0,-1,-1.1,-3,-5.5,-6,-5.0,-5,-6.9,-7,-6.7,-8],
  [16,15.7,14,11.9,12,11.7,10,7.9,8,7.7,6,3.4,3,2.7,1,-0.3,0,0.6,-1,-3.1,-3,-3.3,-5,-7.1,-7],
  [10,8.6,9,9.9,9,7.6,8,8.0,7,5.1,5,5.3,4,2.1,2,2.0,1,-0.9,-1,-0.6,-2,-3.9,-4,-4.5,-6],
  [14,14.5,13,11.5,12,12.5,11,9.0,9,8.1,6,4.0,4,3.6,2,0.5,1,0.6,-1,-3.0,-3,-3.4,-5,-7.0,-7],
  [12,10.0,10,9.6,8,6.0,6,5.6,4,2.0,2,1.6,0,-2.1,-2,-2.4,-4,-5.4,-5,-4.5,-6,-7.5,-7,-7.9,-10],
  [18,18.2,16,13.8,14,13.8,12,9.3,9,8.8,7,4.3,4,3.8,2,-0.2,0,-0.2,-2,-3.3,-3,-3.2,-5,-7.2,-7],
  [9,8.0,8,8.0,7,5.1,5,4.5,2,-0.4,-1,-2.1,-4,-5.0,-4,-3.9,-5,-5.5,-4,-3.1,-4,-5.4,-5,-4.6,-6],
  [15,15.6,14,12.0,12,12.5,11,9.0,9,9.5,8,6.0,6,5.6,4,2.0,2,2.5,1,-0.1,0,0.0,-2,-4.1,-5],
  [11,9.7,10,10.3,9,7.6,8,8.2,7,5.7,6,6.3,5,3.2,3,3.2,2,0.7,1,2.0,2,1.7,2,2.4,1.5],
  [20,20.2,18,15.3,15,14.2,12,9.8,10,9.8,8,5.3,5,4.8,3,0.8,1,0.8,-1,-3.2,-3,-3.2,-5,-7.3,-8],
  [13,11.9,12,12.1,11,9.0,9,8.6,7,5.0,5,4.6,3,1.9,2,2.1,1,-0.4,0,-0.4,-2,-4.1,-4,-4.9,-7],
  [16,16.7,15,12.9,13,12.2,10,7.9,8,7.6,6,3.8,4,4.5,3,1.5,2,2.2,1,-1.1,-1,-1.4,-3,-5.6,-6],
  [10,9.9,11,11.4,10,8.5,9,9.5,8,6.5,7,7.5,6,4.0,4,3.6,2,0.0,0,-0.4,-2,-4.0,-4,-4.8,-7],
  [18,18.8,17,14.8,15,14.8,13,10.2,10,9.8,8,5.8,6,5.7,4,2.3,3,2.8,1,-1.2,-1,-1.2,-3,-5.7,-6],
  [14,13.1,13,12.4,11,9.1,9,8.5,7,5.0,5,5.3,4,2.6,3,3.3,2,0.6,1,0.5,-1,-2.9,-3,-3.6,-5],
  [12,13.1,12,10.0,10,9.6,8,6.0,6,5.6,4,2.5,3,3.4,2,0.5,1,1.2,0,-2.0,-2,-2.4,-4,-6.0,-6],
  [17,17.2,19,19.3,17,14.2,13,11.8,9,6.3,6,5.3,3,1.7,2,2.3,1,-0.6,0,0.4,-1,-3.7,-4,-4.7,-7],
  [11,11.1,10,9.5,10,10.1,9,7.9,8,8.5,7,5.0,5,7.0,7,6.0,6,6.0,4,2.4,2,1.4,-1,-4.0,-5],
  [15,13.0,12,11.0,8,4.0,2,0.2,-2,-2.1,0,2.0,2,2.0,3,3.5,2,0.6,1,1.5,0,-1.6,-2,-2.5,-5],
  [13,13.5,12,10.0,10,9.6,8,6.9,7,6.6,5,3.9,4,4.1,3,2.4,3,3.5,2,0.8,1,1.0,-1,-3.1,-4]
];

// ghana_S, v850 (m/s), 01-Feb .. 01-Jun
const v850S = [
  [-2.1,-1.85,-1.5,-1.2,-0.9,-0.55,-0.3,-0.1,0.0,0.25,0.3,0.3,0.5,0.8,0.9,1.0,1.1,1.2,1.2,1.25,1.3,1.3,1.3,1.3,1.3],
  [-3.3,-3.05,-2.8,-2.4,-2.0,-1.6,-1.2,-0.9,-0.6,-0.35,-0.1,0.2,0.3,0.45,0.8,1.05,1.1,1.05,1.2,1.4,1.4,1.3,1.4,1.4,1.3],
  [-2.4,-1.95,-1.6,-1.35,-0.9,-0.7,-0.6,0.15,0.8,0.5,0.3,0.4,0.5,0.7,0.9,1.15,1.2,1.25,1.3,1.3,1.3,1.35,1.4,1.4,1.3],
  [-3.0,-2.75,-2.6,-2.45,-2.3,-2.15,-2.0,-1.65,-1.3,-1.05,-0.9,-0.75,-0.6,-0.25,0.0,0.25,0.6,0.9,1.0,1.05,1.2,1.35,1.3,1.3,1.3],
  [-2.0,-1.55,-1.2,-0.95,-0.7,-0.5,-0.3,-0.2,-0.1,0.15,0.2,0.25,0.5,0.8,0.9,1.0,1.2,1.3,1.3,1.35,1.5,1.7,1.7,1.8,1.7],
  [-3.4,-3.15,-2.9,-2.75,-2.4,-1.95,-1.7,-1.4,-1.0,-0.65,-0.4,-0.15,0.1,0.45,0.7,0.85,1.0,1.1,1.1,1.1,1.2,1.3,1.3,1.2,1.2],
  [-2.6,-2.25,-2.0,-1.75,-1.4,-1.1,-0.8,-0.6,-0.4,-0.2,0.0,0.2,0.4,0.6,0.8,1.0,1.1,1.15,1.2,1.3,1.3,1.15,1.2,1.35,1.3],
  [-1.9,-1.45,-1.3,-1.15,-0.8,-0.5,-0.4,-0.4,-0.2,0.0,0.1,0.15,0.4,0.75,0.9,1.05,1.3,1.4,1.4,1.4,1.6,1.9,2.0,1.8,1.8],
  [-2.9,-2.7,-2.5,-2.25,-2.0,-1.75,-1.5,-1.15,-0.8,-0.4,-0.1,0.1,0.4,0.65,0.8,0.9,1.0,1.15,1.1,1.1,1.2,1.35,1.3,1.3,1.4],
  [-2.3,-1.95,-1.8,-1.55,-1.1,-0.7,-0.5,-0.45,-0.2,-0.05,0.1,0.2,0.5,0.85,1.0,1.15,1.3,1.4,1.4,1.45,1.5,1.6,1.6,1.65,1.7],
  [-3.1,-2.95,-2.9,-2.75,-2.6,-2.35,-2.3,-2.5,-2.6,-1.95,-1.3,-1.05,-0.7,-0.35,-0.1,0.3,0.6,0.7,0.9,0.85,0.7,0.5,0.5,0.7,0.8],
  [-2.5,-2.15,-1.9,-1.7,-1.3,-0.9,-0.7,-0.6,-0.3,0.0,0.1,0.15,0.4,0.7,0.8,0.95,1.1,1.2,1.2,1.2,1.3,1.4,1.4,1.3,1.3],
  [-2.2,-2.05,-1.7,-1.25,-1.0,-0.85,-0.5,-0.2,-0.1,0.05,0.2,0.4,0.6,0.8,1.0,1.25,1.3,1.2,1.2,1.2,1.1,1.1,1.2,1.3,1.3],
  [-2.8,-2.55,-2.3,-1.95,-1.6,-1.3,-1.0,-0.8,-0.6,-0.35,-0.2,0.05,0.2,0.4,0.7,0.9,1.0,1.05,1.2,1.35,1.4,1.45,1.6,1.8,1.8],
  [-3.6,-3.4,-3.2,-3.0,-2.8,-2.45,-2.1,-1.75,-1.4,-1.05,-0.7,-0.35,-0.1,0.2,0.6,0.9,1.0,1.0,1.1,1.2,1.2,1.2,1.3,1.3,1.2],
  [-2.4,-2.15,-1.9,-1.65,-1.4,-0.95,-0.7,-0.6,-0.3,0.0,0.1,0.25,0.5,0.8,1.0,1.1,1.2,1.3,1.3,1.2,1.2,1.3,1.3,1.3,1.4],
  [-3.0,-2.5,-2.2,-1.95,-1.5,-1.1,-0.9,-0.7,-0.5,-0.3,-0.1,0.15,0.3,0.5,0.8,1.05,1.1,1.1,1.2,1.2,1.1,1.1,1.2,1.2,1.1],
  [-2.7,-2.35,-2.0,-1.7,-1.4,-1.1,-0.8,-0.55,-0.3,-0.1,0.1,0.35,0.5,0.7,1.0,1.25,1.3,1.3,1.3,1.3,1.2,1.2,1.3,1.3,1.2],
  [-3.7,-3.6,-3.5,-3.35,-3.0,-2.55,-2.2,-1.9,-1.5,-1.15,-0.9,-0.65,-0.3,0.15,0.5,0.75,1.0,1.15,1.2,1.2,1.3,1.35,1.3,1.2,1.2],
  [-2.1,-1.75,-1.5,-1.25,-0.8,-0.45,-0.3,-0.2,0.0,0.2,0.2,0.35,0.6,0.85,1.0,1.05,1.2,1.3,1.3,1.3,1.4,1.4,1.3,1.2,1.2],
  [-3.2,-3.05,-2.9,-2.8,-2.5,-2.2,-2.0,-1.85,-1.5,-1.2,-1.0,-0.75,-0.4,0.05,0.4,0.6,0.9,1.05,1.1,1.1,1.2,1.25,1.2,1.1,1.1],
  [-2.6,-2.15,-1.9,-1.65,-1.2,-0.8,-0.6,-0.5,-0.2,0.1,0.2,0.35,0.6,0.85,1.0,1.15,1.3,1.4,1.4,1.3,1.3,1.3,1.2,1.1,1.1],
  [-1.7,-1.25,-1.0,-0.85,-0.5,-0.25,-0.2,-0.15,0.1,0.35,0.4,0.45,0.7,0.95,1.1,1.2,1.4,1.5,1.5,1.4,1.4,1.4,1.3,1.2,1.2],
  [-2.9,-2.65,-2.4,-2.05,-1.7,-1.35,-1.1,-0.9,-0.6,-0.25,-0.1,0.05,0.3,0.6,0.8,0.95,1.1,1.2,1.2,1.1,1.1,1.1,1.0,0.9,0.9],
  [-2.2,-1.8,-1.6,-1.35,-1.0,-0.75,-0.5,-0.3,-0.1,0.15,0.3,0.4,0.6,0.85,1.0,1.05,1.2,1.25,1.2,1.1,1.1,1.15,1.1,1.0,1.0],
  [-3.5,-3.35,-3.2,-2.95,-2.6,-2.25,-1.9,-1.55,-1.1,-0.65,-0.3,-0.1,0.2,0.55,0.8,0.95,1.1,1.2,1.2,1.1,1.1,1.1,1.0,0.9,0.9],
  [-2.5,-2.05,-1.8,-1.55,-1.1,-0.7,-0.5,-0.4,-0.2,0.05,0.2,0.35,0.6,0.85,1.0,1.05,1.2,1.25,1.2,1.1,1.1,1.1,1.0,0.95,1.0],
  [-1.4,-1.15,-0.9,-0.65,-0.3,-0.05,0.1,0.25,0.4,0.6,0.7,0.75,0.9,1.05,1.1,1.15,1.3,1.3,1.2,1.15,1.2,1.2,1.1,1.0,1.0],
  [-3.0,-2.75,-2.5,-2.2,-1.8,-1.45,-1.2,-0.95,-0.6,-0.25,0.0,0.2,0.5,0.8,1.0,1.15,1.4,1.5,1.4,1.25,1.2,1.2,1.1,1.0,1.0],
  [-2.8,-2.35,-2.1,-1.75,-1.3,-0.85,-0.6,-0.4,-0.1,0.15,0.3,0.45,0.7,0.9,1.0,1.05,1.2,1.2,1.1,1.0,1.0,1.0,0.9,0.8,0.8],
  [-1.5,-0.95,-0.6,-0.15,0.3,0.5,0.6,0.75,0.9,1.0,1.0,1.0,1.1,1.2,1.2,1.2,1.3,1.3,1.2,1.05,1.0,0.95,0.8,0.55,0.4],
  [-2.4,-2.0,-1.8,-1.55,-1.2,-0.8,-0.6,-0.45,-0.2,0.0,0.1,0.2,0.4,0.7,0.9,0.95,1.1,1.15,1.1,1.1,1.2,1.2,1.1,1.05,1.1],
  [-2.0,-1.65,-1.4,-1.15,-0.8,-0.45,-0.2,-0.05,0.2,0.4,0.5,0.6,0.8,1.0,1.1,1.1,1.2,1.3,1.3,1.2,1.2,1.2,1.1,1.0,1.0],
  [-2.7,-2.4,-2.2,-2.0,-1.7,-1.35,-1.1,-0.95,-0.7,-0.45,-0.3,-0.15,0.1,0.4,0.6,0.75,1.0,1.1,1.1,1.1,1.2,1.2,1.1,1.0,1.0],
  [-3.1,-2.8,-2.6,-2.35,-2.0,-1.55,-1.2,-0.9,-0.5,-0.2,0.0,0.15,0.4,0.65,0.8,0.9,1.1,1.2,1.2,1.1,1.1,1.1,1.0,0.85,0.8],
  [-2.3,-1.95,-1.8,-1.5,-1.1,-0.7,-0.4,-0.25,0.0,0.2,0.3,0.35,0.5,0.75,0.9,0.95,1.1,1.1,1.0,0.9,0.9,0.9,0.8,0.7,0.7],
  [-3.2,-2.75,-2.3,-1.85,-1.2,-0.65,-0.3,-0.15,0.0,0.15,0.2,0.3,0.5,0.7,0.8,0.85,1.0,1.05,1.0,0.95,1.0,1.0,0.9,0.75,0.7],
  [-2.6,-2.35,-2.1,-1.85,-1.5,-1.2,-1.0,-0.95,-0.8,-0.55,-0.4,-0.25,0.0,0.35,0.6,0.75,1.0,1.15,1.2,1.2,1.3,1.3,1.2,1.1,1.1],
  [-3.4,-3.05,-2.8,-2.5,-2.1,-1.75,-1.5,-1.25,-0.9,-0.55,-0.3,-0.1,0.2,0.5,0.7,0.85,1.1,1.2,1.2,1.2,1.3,1.3,1.2,1.1,1.1],
  [-2.2,-2.1,-1.9,-1.75,-1.5,-0.85,-0.3,0.15,0.5,0.5,0.6,0.7,0.7,0.75,0.9,1.05,1.1,1.15,1.1,1.0,1.0,1.0,0.9,0.8,0.8],
  [-2.8,-2.55,-2.4,-2.2,-1.9,-1.55,-1.3,-1.1,-0.8,-0.5,-0.3,-0.15,0.1,0.4,0.6,0.75,1.0,1.1,1.1,1.0,1.0,1.0,0.9,0.75,0.7]
];

// ghana_S, u200 (m/s), 01-Feb .. 01-Jun
const u200S = [
  [9,8.0,6,4.5,4,3.5,2,1.0,1,0.5,-1,-2.0,-2,-2.0,-3,-4.0,-4,-3.9,-5,-6.1,-6,-6.0,-7,-9.1,-9],
  [15,13.8,14,14.2,12,10.2,10,10.3,8,5.3,5,4.2,2,-0.2,0,0.2,-2,-4.2,-4,-3.3,-5,-6.8,-6,-5.3,-7],
  [2,2.5,1,-0.5,0,0.4,-1,-2.9,-3,-3.6,-5,-5.3,-4,-4.0,-5,-5.3,-5,-5.1,-6,-7.0,-7,-7.1,-8,-9.0,-9],
  [19,17.2,18,18.2,17,17.3,20,22.3,22,20.3,20,18.2,14,9.8,8,6.8,4,1.7,1,0.2,-2,-3.3,-3,-3.2,-5],
  [13,12.6,11,9.4,9,8.6,7,5.9,6,5.6,4,2.9,3,3.1,2,0.9,1,0.6,-1,-3.1,-3,-2.5,-4,-6.0,-6],
  [10,9.8,12,14.2,14,13.8,15,15.3,13,10.2,9,7.8,5,2.3,2,2.6,1,-1.2,-1,-1.2,-3,-5.2,-5,-5.2,-7],
  [6,6.4,5,4.0,4,3.5,2,1.0,1,1.3,0,-1.4,-1,-0.6,-2,-3.4,-3,-2.6,-4,-5.4,-5,-4.6,-6,-7.4,-7],
  [14,15.0,18,19.9,19,18.6,20,21.0,19,15.1,13,11.4,8,5.1,5,4.5,2,-0.4,0,0.4,-1,-2.4,-2,-1.5,-3],
  [8,9.0,9,9.0,10,11.1,11,11.0,12,11.5,9,6.5,6,5.1,3,1.0,1,1.0,-1,-3.0,-3,-3.4,-5,-7.0,-7],
  [5,3.5,3,2.9,2,1.0,1,1.0,0,-1.5,-1,-0.6,-2,-3.4,-3,-2.6,-4,-5.5,-5,-4.6,-6,-7.4,-7,-6.6,-8],
  [12,12.2,10,7.8,8,8.2,7,7.8,11,12.8,12,9.8,9,7.8,5,3.2,3,2.2,0,-2.3,-2,-2.2,-4,-6.2,-6],
  [17,14.4,14,13.6,11,8.4,8,7.2,5,2.8,3,3.1,2,1.9,3,3.6,2,-0.1,0,-0.3,-2,-4.1,-4,-4.4,-6],
  [9,9.5,8,6.4,6,5.5,4,2.0,2,1.6,0,-2.0,-2,-1.5,-3,-4.5,-4,-3.5,-5,-6.5,-6,-5.5,-7,-8.5,-8],
  [15,12.9,13,13.1,11,8.9,9,8.7,7,4.9,5,4.7,3,0.9,1,1.5,0,-1.6,-2,-2.4,-4,-5.2,-5,-4.8,-6],
  [4,4.4,3,1.6,2,1.5,0,-1.4,-1,-0.6,-2,-3.4,-3,-2.1,-3,-4.4,-4,-3.6,-5,-7.0,-7,-7.5,-9,-10.1,-10],
  [11,9.7,10,10.2,9,7.3,7,6.8,5,3.7,4,3.8,2,-0.2,0,-0.2,-2,-4.3,-4,-3.3,-5,-7.2,-7,-7.2,-9],
  [7,7.5,6,4.5,5,4.6,3,1.5,2,2.4,1,-0.5,0,0.1,-1,-3.0,-3,-2.5,-4,-5.5,-5,-4.5,-6,-7.5,-7],
  [-4.5,-5.2,-4.7,-4.2,-4,-3.8,-2,-0.7,-1,-2.0,-2,-2.1,-3,-4.0,-4,-4.1,-5,-5.4,-5,-5.1,-6,-6.9,-7,-7.0,-8],
  [13,13.7,12,9.8,10,10.3,8,5.3,5,4.8,3,0.8,1,1.6,0,-1.3,-1,-1.2,-3,-5.2,-5,-5.3,-7,-9.2,-9],
  [8,6.9,7,6.6,5,3.0,3,3.5,2,0.4,1,1.1,0,-2.0,-2,-2.0,-3,-4.1,-4,-3.9,-5,-6.1,-6,-6.4,-8],
  [10,9.7,8,5.9,6,5.6,4,2.8,3,3.7,2,-0.2,0,0.3,-1,-3.2,-3,-2.4,-4,-6.1,-6,-5.4,-7,-9.1,-9],
  [6,4.0,4,4.5,3,1.0,1,0.6,-1,-3.0,-3,-3.4,-5,-6.5,-6,-6.0,-7,-7.6,-7,-6.9,-8,-8.6,-8,-7.9,-9],
  [12,12.0,10,8.0,8,7.6,6,3.9,4,4.5,3,1.0,1,1.4,0,-1.5,-1,-0.5,-2,-4.0,-4,-4.4,-6,-8.0,-8],
  [5,4.0,4,3.5,2,1.0,1,0.9,0,-1.4,-1,-0.6,-2,-3.4,-3,-2.5,-4,-5.4,-5,-4.6,-6,-7.4,-7,-6.6,-8],
  [9,9.1,8,6.9,7,6.6,5,3.9,4,3.6,2,0.9,1,0.6,-1,-2.1,-2,-1.9,-3,-4.1,-4,-4.4,-6,-8.0,-8],
  [11,9.3,9,8.7,7,4.9,5,4.7,3,0.9,1,0.7,-1,-3.2,-3,-3.3,-5,-6.2,-6,-5.8,-7,-8.2,-8,-8.3,-10],
  [7,7.0,6,5.0,5,5.0,4,3.0,3,3.0,2,1.0,1,1.0,0,-1.3,-1,-1.0,-2,-3.0,-3,-3.5,-5,-6.9,-7],
  [18,17.8,19,18.8,16,13.2,12,11.2,9,6.8,6,5.2,3,0.8,1,0.8,-1,-3.3,-3,-2.3,-4,-6.2,-6,-6.2,-8],
  [10,10.5,9,7.0,7,7.5,6,4.5,5,5.5,4,2.0,2,1.6,0,-1.5,-1,-0.5,-2,-3.5,-3,-3.5,-5,-7.0,-7],
  [0,-0.9,-0.5,0.4,0,-0.4,0,0.0,-1,-2.3,-2,-1.7,-3,-4.3,-4,-3.7,-4,-3.8,-2,-0.7,-1,-0.8,0,0.0,-1.5],
  [19,19.3,17,14.8,14,13.2,11,8.8,8,7.3,5,2.7,3,2.8,1,-1.2,-1,-1.3,-3,-5.2,-5,-5.3,-7,-8.3,-8],
  [9,7.9,8,8.0,6,3.5,3,2.6,1,-1.1,-1,-1.4,-3,-5.0,-5,-4.5,-6,-7.5,-7,-6.0,-7,-8.5,-8,-7.5,-9],
  [14,13.7,12,9.9,10,10.6,9,6.9,7,6.7,5,2.9,3,3.5,2,0.4,1,2.5,2,0.9,1,0.6,-2,-4.5,-5],
  [6,5.0,5,5.0,4,3.0,3,2.9,2,1.0,1,0.9,0,-1.0,-1,-1.1,-2,-3.4,-3,-2.6,-4,-5.9,-6,-6.5,-8],
  [17,17.2,15,13.3,13,12.2,10,7.2,7,6.8,5,2.8,3,2.8,1,-0.3,0,0.2,-2,-4.2,-4,-4.2,-6,-8.2,-8],
  [11,9.9,10,9.6,8,6.0,6,5.5,4,2.0,2,2.5,1,-1.0,-1,-0.5,-2,-3.5,-3,-2.5,-4,-5.1,-5,-5.4,-7],
  [13,12.6,11,9.4,9,8.1,6,3.4,3,2.6,1,-1.0,-1,-0.5,-2,-3.5,-3,-2.5,-4,-5.5,-5,-4.5,-6,-8.0,-8],
  [8,7.0,7,7.0,6,4.1,4,3.5,2,0.6,1,0.9,0,-0.1,1,2.1,2,2.0,3,2.5,0,-2.0,-3,-4.5,-7],
  [16,15.8,13,10.2,9,8.8,6,2.8,2,1.8,0,-1.3,-1,-0.7,-2,-3.3,-3,-2.7,-4,-6.3,-6,-5.3,-7,-8.6,-8],
  [12,11.0,11,10.6,8,4.0,1,-2.4,-7,-7.0,-4,-2.0,-2,-2.1,-1,-0.8,-2,-3.5,-3,-2.5,-4,-6.0,-6,-6.4,-8],
  [5,5.4,4,2.5,3,3.4,2,0.6,1,1.4,0,-1.0,-1,-1.0,-2,-3.0,-3,-3.0,-4,-5.0,-5,-5.0,-6,-6.9,-7]
];

// onset dates (MM-DD) per year, one list per region
const onsetN = ["04-14","05-11","04-19","04-28","05-17","04-27","04-17","04-29","04-15","04-20",
  "05-04","04-16","04-28","04-26","04-18","04-30","05-07","04-21","04-29","04-12","04-07",
  "05-08","04-08","05-09","04-09","04-11","04-13","04-10","05-03","04-19","05-02","04-01",
  "04-17","04-25","04-22","05-04","04-20","04-18","04-29","04-16","04-30"];
const onsetC = ["03-05","03-10","02-28","04-16","03-04","03-30","03-08","03-12","03-03","03-27",
  "03-31","03-11","03-04","03-23","03-26","03-22","03-21","03-24","03-09","04-01","03-23",
  "03-31","03-30","03-05","04-12","03-14","04-14","03-22","03-11","04-24","03-01","03-10",
  "02-25","04-13","03-09","03-28","03-12","03-17","03-27","02-19","03-03"];
const onsetS = ["03-01","02-11","03-24","02-14","03-07","02-15","02-16","03-28","02-27","03-08",
  "03-07","02-28","03-20","03-08","02-16","03-18","03-24","02-28","03-07","03-14","03-15",
  "03-14","03-15","03-01","02-27","03-15","02-07","02-24","02-09","02-25","03-04","04-01",
  "03-17","03-05","03-03","03-04","03-17","03-05","02-19","03-03","03-04"];

// wind range spanned at the onset dates (m/s)
const rangeV850N = [-0.5, 1.1];
const rangeU200N = [0, 15];
const rangeV850C = [-1.1, 0.9];
const rangeU200C = [0, 15];
const rangeV850S = [-1.9, 0.1];
const rangeU200S = [-1, 13];

// ---------------------------------------------------------------------------
// Panel layout and styling
// ---------------------------------------------------------------------------
const panels = [
  { key: "a", title: "Meridional wind at 850 hPa (1981-2021) - ghana_N", ylabel: "Meridional wind speed (m/s)",
    legend: "30-days smoothed v850hPa", series: v850N, days: sampleDaysMarJul, xTicks: ticksMarJul, start: "03-01",
    onset: onsetN, band: rangeV850N, bandColor: "#2ca02c", yDomain: [-4, 4], yTicks: ticksV850,
    x0: 52.3, x1: 484.3, y0: 44.7, y1: 366.7, cb: [511.2, 527.5], letterX: 38.3, letterY: 24.3,
    ylabelX: 20.5, yearX: 582 },
  { key: "b", title: "Zonal wind at 200 hPa (1981-2021) - ghana_N", ylabel: "Zonal wind speed (m/s)",
    legend: "30-days smoothed u200hPa", series: u200N, days: sampleDaysMarJul, xTicks: ticksMarJul, start: "03-01",
    onset: onsetN, band: rangeU200N, bandColor: "#2ca02c", yDomain: [-20, 20], yTicks: ticksU200,
    x0: 659.4, x1: 1090.7, y0: 44.7, y1: 366.7, cb: [1117.8, 1134.3], letterX: 625, letterY: 24.3,
    ylabelX: 620, yearX: 1190 },
  { key: "c", title: "Meridional wind at 850 hPa (1981-2021) - ghana_C", ylabel: "Meridional wind speed (m/s)",
    legend: "30-days smoothed v850hPa", series: v850C, days: sampleDaysFebJun, xTicks: ticksFebJun, start: "02-01",
    onset: onsetC, band: rangeV850C, bandColor: "#1f77b4", yDomain: [-4, 4], yTicks: ticksV850,
    x0: 52.5, x1: 484.5, y0: 434.3, y1: 756.7, cb: [512, 528], letterX: 38, letterY: 409.5,
    ylabelX: 20.5, yearX: null },
  { key: "d", title: "Zonal wind at 200 hPa (1981-2021) - ghana_C", ylabel: "Zonal wind speed (m/s)",
    legend: "30-days smoothed u200hPa", series: u200C, days: sampleDaysFebJun, xTicks: ticksFebJun, start: "02-01",
    onset: onsetC, band: rangeU200C, bandColor: "#1f77b4", yDomain: [-20, 20], yTicks: ticksU200,
    x0: 655.6, x1: 1087.8, y0: 435.5, y1: 747.7, cb: [1114.8, 1131.5], letterX: 625, letterY: 419,
    ylabelX: 616, yearX: 1186 },
  { key: "e", title: "Meridional wind at 850 hPa (1981-2021) - ghana_S", ylabel: "Meridional wind speed (m/s)",
    legend: "30-days smoothed v850hPa", series: v850S, days: sampleDaysFebJun, xTicks: ticksFebJun, start: "02-01",
    onset: onsetS, band: rangeV850S, bandColor: "#d62728", yDomain: [-4, 4], yTicks: ticksV850,
    x0: 52.5, x1: 484.5, y0: 808.3, y1: 1130, cb: [512, 528], letterX: 38, letterY: 793,
    ylabelX: 21.5, yearX: 582 },
  { key: "f", title: "Zonal wind at 200 hPa (1981-2021) - ghana_S", ylabel: "Zonal wind speed (m/s)",
    legend: "30-days smoothed u200hPa", series: u200S, days: sampleDaysFebJun, xTicks: ticksFebJun, start: "02-01",
    onset: onsetS, band: rangeU200S, bandColor: "#d62728", yDomain: [-20, 20], yTicks: ticksU200,
    x0: 659.4, x1: 1091, y0: 808.3, y1: 1130, cb: [1118.8, 1135.2], letterX: 629, letterY: 794,
    ylabelX: 620, yearX: 1191 }
];

const svg = d3.select("#fig");
const defs = svg.append("defs");
const yearColor = d3.scaleSequential(d3.interpolatePlasma).domain([1981, 2021]);
const parseDM = d3.utcParse("%d-%b");
const parseMD = d3.utcParse("%m-%d");

// shared vertical plasma gradient for the colour bars
const grad = defs.append("linearGradient").attr("id", "plasmaGrad")
  .attr("x1", 0).attr("y1", 1).attr("x2", 0).attr("y2", 0);
d3.range(0, 1.0001, 0.05).forEach(t => {
  grad.append("stop").attr("offset", t).attr("stop-color", d3.interpolatePlasma(t));
});

const GRID = "#b0b0b0";
const TICK_FONT = 12;
const XTICK_FONT = 9.5;

function drawPanel(p) {
  const g = svg.append("g").attr("class", "panel-" + p.key);
  const span = d3.utcDay.count(parseDM(p.xTicks[0]), parseDM(p.xTicks[p.xTicks.length - 1]));
  const x = d3.scaleLinear().domain([-0.05 * span, 1.05 * span]).range([p.x0, p.x1]);
  const y = d3.scaleLinear().domain(p.yDomain).range([p.y1, p.y0]);
  const startDate = parseMD(p.start);
  const tickDays = p.xTicks.map(s => d3.utcDay.count(parseDM(p.xTicks[0]), parseDM(s)));

  defs.append("clipPath").attr("id", "clip-" + p.key)
    .append("rect").attr("x", p.x0).attr("y", p.y0)
    .attr("width", p.x1 - p.x0).attr("height", p.y1 - p.y0);

  // grid
  const grid = g.append("g");
  grid.selectAll("line.gx").data(tickDays).join("line").attr("class", "gx")
    .attr("x1", d => x(d)).attr("x2", d => x(d)).attr("y1", p.y0).attr("y2", p.y1)
    .attr("stroke", GRID).attr("stroke-width", 0.8);
  grid.selectAll("line.gy").data(p.yTicks).join("line").attr("class", "gy")
    .attr("x1", p.x0).attr("x2", p.x1).attr("y1", d => y(d)).attr("y2", d => y(d))
    .attr("stroke", GRID).attr("stroke-width", 0.8);

  // wind range of onset dates
  g.append("rect")
    .attr("x", p.x0).attr("width", p.x1 - p.x0)
    .attr("y", y(p.band[1])).attr("height", y(p.band[0]) - y(p.band[1]))
    .attr("fill", p.bandColor).attr("fill-opacity", 0.4)
    .attr("stroke", p.bandColor).attr("stroke-opacity", 0.4).attr("stroke-width", 1);

  // yearly curves
  const line = d3.line()
    .defined((v, i) => i < p.days.length && v != null)
    .x((v, i) => x(p.days[i]))
    .y(v => y(v))
    .curve(d3.curveCatmullRom.alpha(0.5));
  g.append("g").attr("clip-path", `url(#clip-${p.key})`)
    .selectAll("path").data(p.series).join("path")
    .attr("d", line)
    .attr("fill", "none")
    .attr("stroke", (d, i) => yearColor(years[i]))
    .attr("stroke-width", 1)
    .attr("stroke-opacity", 0.7);

  // onset date markers along the bottom
  g.append("g").selectAll("line").data(p.onset).join("line")
    .attr("x1", d => x(d3.utcDay.count(startDate, parseMD(d))))
    .attr("x2", d => x(d3.utcDay.count(startDate, parseMD(d))))
    .attr("y1", p.y1).attr("y2", p.y1 - 7)
    .attr("stroke", (d, i) => yearColor(years[i]))
    .attr("stroke-width", 1.3);

  // axes
  const xAxis = d3.axisBottom(x).tickValues(tickDays).tickFormat((d, i) => p.xTicks[i])
    .tickSize(3.5).tickPadding(3);
  const gx = g.append("g").attr("transform", `translate(0,${p.y1})`).call(xAxis);
  gx.select(".domain").remove();
  gx.selectAll("text").attr("font-size", XTICK_FONT).attr("font-family", "DejaVu Sans").attr("fill", "#000");
  gx.selectAll("line").attr("stroke", "#000").attr("stroke-width", 0.8);

  const yAxis = d3.axisLeft(y).tickValues(p.yTicks).tickSize(3.5).tickPadding(2.5);
  const gy = g.append("g").attr("transform", `translate(${p.x0},0)`).call(yAxis);
  gy.select(".domain").remove();
  gy.selectAll("text").attr("font-size", TICK_FONT).attr("font-family", "DejaVu Sans").attr("fill", "#000");
  gy.selectAll("line").attr("stroke", "#000").attr("stroke-width", 0.8);

  g.append("rect").attr("x", p.x0).attr("y", p.y0)
    .attr("width", p.x1 - p.x0).attr("height", p.y1 - p.y0)
    .attr("fill", "none").attr("stroke", "#000").attr("stroke-width", 0.8);

  // titles and labels
  g.append("text").attr("x", (p.x0 + p.x1) / 2).attr("y", p.y0 - 7.5)
    .attr("text-anchor", "middle").attr("font-size", 14.4).text(p.title);
  g.append("text").attr("transform", `translate(${p.ylabelX},${(p.y0 + p.y1) / 2}) rotate(-90)`)
    .attr("text-anchor", "middle").attr("font-size", 14.4).text(p.ylabel);
  g.append("text").attr("x", p.letterX).attr("y", p.letterY)
    .attr("font-size", 18).attr("font-weight", "bold").text(p.key + ")");

  // legend
  const lw = 208, lh = 55;
  const lx = p.x1 - 6 - lw, ly = p.y1 - 5 - lh;
  const lg = g.append("g").attr("transform", `translate(${lx},${ly})`);
  lg.append("rect").attr("width", lw).attr("height", lh).attr("rx", 3)
    .attr("fill", "#fff").attr("fill-opacity", 0.8)
    .attr("stroke", "#cccccc").attr("stroke-width", 1);
  const rows = [9, 26.5, 43.5];
  lg.append("line").attr("x1", 10).attr("x2", 33).attr("y1", rows[0]).attr("y2", rows[0])
    .attr("stroke", "#7b3fd6").attr("stroke-opacity", 0.8).attr("stroke-width", 1);
  lg.append("rect").attr("x", 10).attr("width", 23).attr("y", rows[1] - 4).attr("height", 8)
    .attr("fill", p.bandColor).attr("fill-opacity", 0.4)
    .attr("stroke", p.bandColor).attr("stroke-opacity", 0.4);
  lg.append("line").attr("x1", 21.5).attr("x2", 21.5).attr("y1", rows[2] - 4.5).attr("y2", rows[2] + 4.5)
    .attr("stroke", "#5c12b0").attr("stroke-width", 1.5);
  const labels = [p.legend, "Wind range of onset dates", "Onset dates"];
  lg.selectAll("text.lab").data(labels).join("text").attr("class", "lab")
    .attr("x", 43).attr("y", (d, i) => rows[i]).attr("dy", "0.35em")
    .attr("font-size", 11.5).text(d => d);

  // colour bar
  const cbw = p.cb[1] - p.cb[0];
  g.append("rect").attr("x", p.cb[0]).attr("y", p.y0).attr("width", cbw).attr("height", p.y1 - p.y0)
    .attr("fill", "url(#plasmaGrad)").attr("stroke", "#000").attr("stroke-width", 0.8);
  const yc = d3.scaleLinear().domain([1981, 2021]).range([p.y1, p.y0]);
  const minor = g.append("g").attr("transform", `translate(${p.cb[1]},0)`)
    .call(d3.axisRight(yc).tickValues(years).tickSize(2).tickFormat(""));
  minor.select(".domain").remove();
  minor.selectAll("line").attr("stroke", "#000").attr("stroke-width", 0.6);
  const major = g.append("g").attr("transform", `translate(${p.cb[1]},0)`)
    .call(d3.axisRight(yc).tickValues(ticksYear).tickSize(3.5).tickPadding(4).tickFormat(d3.format("d")));
  major.select(".domain").remove();
  major.selectAll("line").attr("stroke", "#000").attr("stroke-width", 0.8);
  major.selectAll("text").attr("font-size", TICK_FONT).attr("font-family", "DejaVu Sans").attr("fill", "#000");
  if (p.yearX !== null) {
    g.append("text").attr("transform", `translate(${p.yearX},${(p.y0 + p.y1) / 2}) rotate(-90)`)
      .attr("text-anchor", "middle").attr("font-size", 14.4).text("Year");
  }
}

panels.forEach(drawPanel);
</script>
</body>
</html>
